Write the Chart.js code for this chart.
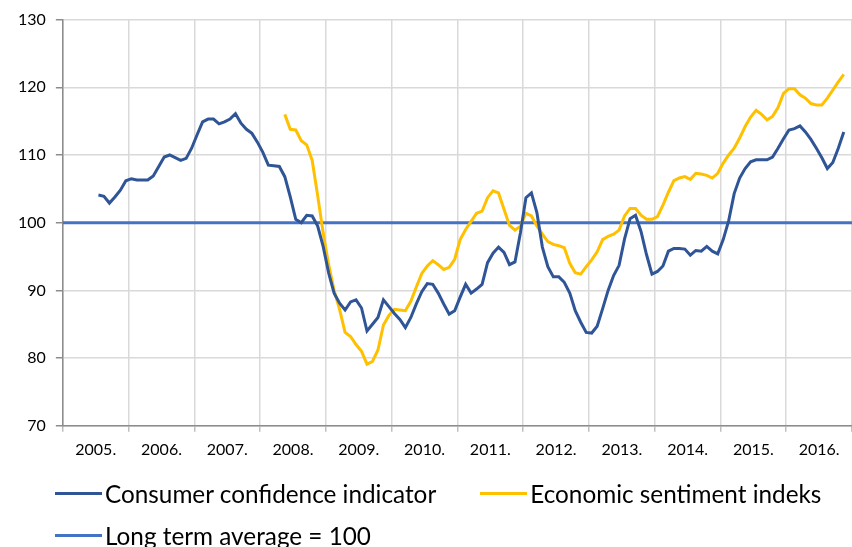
<!DOCTYPE html>
<html>
<head>
<meta charset="utf-8">
<script src="https://cdn.jsdelivr.net/npm/chart.js@4/dist/chart.umd.min.js"></script>
<style>
  html, body { margin: 0; padding: 0; background: #fff; }
  #wrap { position: relative; width: 852px; height: 547px; overflow: hidden; }
  #c { position: absolute; left: 0; top: 0; }
  #legend { position: absolute; left: 55px; top: 477px; width: 870px; display: flex; flex-wrap: wrap;
            font-family: Lato, sans-serif; font-size: 24.3px; color: #000; }
  .item { display: flex; align-items: center; height: 32px; margin-right: 44px; margin-bottom: 10px; white-space: nowrap; }
  .sw { display: inline-block; width: 47px; height: 3px; margin-right: 3px; }
  .brk { flex-basis: 100%; height: 0; }
</style>
</head>
<body>
<div id="wrap">
  <canvas id="c" width="852" height="547"></canvas>
  <div id="legend"></div>
</div>
<script>
// ---- data ----
const years = [2005, 2006, 2007, 2008, 2009, 2010, 2011, 2012, 2013, 2014, 2015, 2016];
const yearLabels = ['2005.', '2006.', '2007.', '2008.', '2009.', '2010.', '2011.', '2012.', '2013.', '2014.', '2015.', '2016.'];
const yTicks = [70, 80, 90, 100, 110, 120, 130];

const seriesNames = ['Consumer confidence indicator', 'Economic sentiment indeks', 'Long term average = 100'];

// monthly values, Jan 2005 .. Dec 2016
const consumerConfidence = [
  null, null, null, null, null, null, 104.1, 103.9, 102.9, 103.8, 104.8, 106.2,
  106.5, 106.3, 106.3, 106.3, 106.9, 108.3, 109.7, 110.0, 109.6, 109.2, 109.5, 111.0,
  113.0, 114.9, 115.3, 115.3, 114.6, 114.9, 115.3, 116.1, 114.7, 113.8, 113.2, 111.9,
  110.4, 108.5, 108.4, 108.3, 106.8, 103.8, 100.5, 100.0, 101.1, 101.0, 99.5, 96.5,
  92.6, 89.6, 88.1, 87.1, 88.3, 88.6, 87.4, 84.0, 85.0, 86.0, 88.6, 87.6,
  86.6, 85.7, 84.5, 86.0, 88.0, 89.8, 91.0, 90.9, 89.6, 88.0, 86.5, 87.0,
  89.0, 90.9, 89.6, 90.2, 90.9, 94.1, 95.5, 96.4, 95.6, 93.8, 94.2, 98.5,
  103.7, 104.4, 101.5, 96.4, 93.5, 92.0, 92.0, 91.2, 89.6, 87.0, 85.3, 83.8,
  83.7, 84.7, 87.3, 90.0, 92.2, 93.7, 97.6, 100.6, 101.1, 98.7, 95.3, 92.4,
  92.8, 93.6, 95.8, 96.2, 96.2, 96.1, 95.2, 95.9, 95.8, 96.5, 95.8, 95.4,
  97.5, 100.3, 104.3, 106.6, 108.0, 109.0, 109.3, 109.3, 109.3, 109.7, 111.0, 112.4,
  113.7, 113.9, 114.3, 113.4, 112.3, 111.0, 109.6, 108.0, 108.9, 111.0, 113.4, null
];
const economicSentiment = [
  null, null, null, null, null, null, null, null, null, null, null, null,
  null, null, null, null, null, null, null, null, null, null, null, null,
  null, null, null, null, null, null, null, null, null, null, null, null,
  null, null, null, null, 116.0, 113.8, 113.7, 112.1, 111.5, 109.2, 104.0, 98.5,
  93.8, 90.0, 87.2, 83.8, 83.2, 82.0, 81.0, 79.1, 79.5, 81.2, 84.9, 86.3,
  87.2, 87.1, 87.0, 88.4, 90.5, 92.5, 93.6, 94.4, 93.8, 93.1, 93.4, 94.6,
  97.5, 99.0, 100.2, 101.4, 101.7, 103.7, 104.7, 104.4, 102.0, 99.6, 98.9, 99.5,
  101.4, 101.0, 99.5, 98.3, 97.2, 96.8, 96.6, 96.3, 94.0, 92.6, 92.4, 93.5,
  94.5, 95.7, 97.5, 98.0, 98.3, 98.9, 101.0, 102.1, 102.1, 101.1, 100.5, 100.5,
  100.9, 102.6, 104.5, 106.2, 106.6, 106.8, 106.4, 107.3, 107.2, 107.0, 106.6, 107.3,
  108.8, 110.0, 111.0, 112.5, 114.2, 115.6, 116.6, 116.0, 115.2, 115.7, 117.0, 119.1,
  119.8, 119.8, 118.9, 118.4, 117.6, 117.4, 117.4, 118.4, 119.6, 120.8, 121.9, null
];
const longTermAverage = 100;

// ---- build ----
const monthX = [];
years.forEach(y => { for (let m = 0; m < 12; m++) monthX.push(y + (m + 0.5) / 12); });
const firstYear = years[0], lastYear = years[years.length - 1] + 1;

const colors = ['#2F5597', '#FFC000', '#4472C4'];

const toPoints = arr => arr.map((v, i) => ({ x: monthX[i], y: v }));

const FONT = 'Lato, sans-serif';

const chart = new Chart(document.getElementById('c'), {
  type: 'line',
  data: {
    datasets: [
      { label: seriesNames[0], data: toPoints(consumerConfidence), borderColor: colors[0], borderWidth: 3, pointRadius: 0, tension: 0, spanGaps: false },
      { label: seriesNames[1], data: toPoints(economicSentiment), borderColor: colors[1], borderWidth: 3, pointRadius: 0, tension: 0, spanGaps: false },
      { label: seriesNames[2], data: [{ x: firstYear, y: longTermAverage }, { x: lastYear, y: longTermAverage }], borderColor: colors[2], borderWidth: 3, pointRadius: 0 }
    ]
  },
  options: {
    responsive: false,
    animation: false,
    devicePixelRatio: 1,
    layout: { padding: { top: 10, left: 8, right: 0, bottom: 80 } },
    plugins: { legend: { display: false }, tooltip: { enabled: false } },
    scales: {
      x: {
        type: 'linear',
        min: firstYear,
        max: lastYear,
        afterBuildTicks: scale => {
          const t = [];
          years.forEach(y => { t.push({ value: y }); t.push({ value: y + 0.5 }); });
          t.push({ value: lastYear });
          scale.ticks = t;
        },
        afterFit: scale => { scale.paddingRight = 0; },
        grid: {
          color: ctx => (ctx.tick && Number.isInteger(ctx.tick.value)) ? '#d9d9d9' : 'rgba(0,0,0,0)',
          tickColor: ctx => (ctx.tick && Number.isInteger(ctx.tick.value)) ? '#bfbfbf' : 'rgba(0,0,0,0)',
          tickLength: 6,
          lineWidth: 1.5
        },
        border: { color: '#8c8c8c', width: 1.5 },
        ticks: {
          autoSkip: false, maxRotation: 0, padding: 8,
          font: { family: FONT, size: 16 }, color: '#000',
          callback: v => Number.isInteger(v) ? '' : yearLabels[Math.floor(v) - firstYear]
        }
      },
      y: {
        min: yTicks[0], max: yTicks[yTicks.length - 1],
        afterBuildTicks: scale => { scale.ticks = yTicks.map(v => ({ value: v })); },
        grid: { color: '#d9d9d9', tickColor: '#8c8c8c', tickLength: 7, lineWidth: 1.5 },
        border: { color: '#8c8c8c', width: 1.5 },
        ticks: { padding: 10, font: { family: FONT, size: 16 }, color: '#000' }
      }
    }
  }
});

// HTML legend from datasets (two entries on the first row, the third on the second)
const lg = document.getElementById('legend');
chart.data.datasets.forEach((ds, i) => {
  const it = document.createElement('div'); it.className = 'item';
  const sw = document.createElement('span'); sw.className = 'sw'; sw.style.background = ds.borderColor;
  const tx = document.createElement('span'); tx.textContent = ds.label;
  it.appendChild(sw); it.appendChild(tx); lg.appendChild(it);
  if (i === 1) { const b = document.createElement('div'); b.className = 'brk'; lg.appendChild(b); }
});
</script>
</body>
</html>
